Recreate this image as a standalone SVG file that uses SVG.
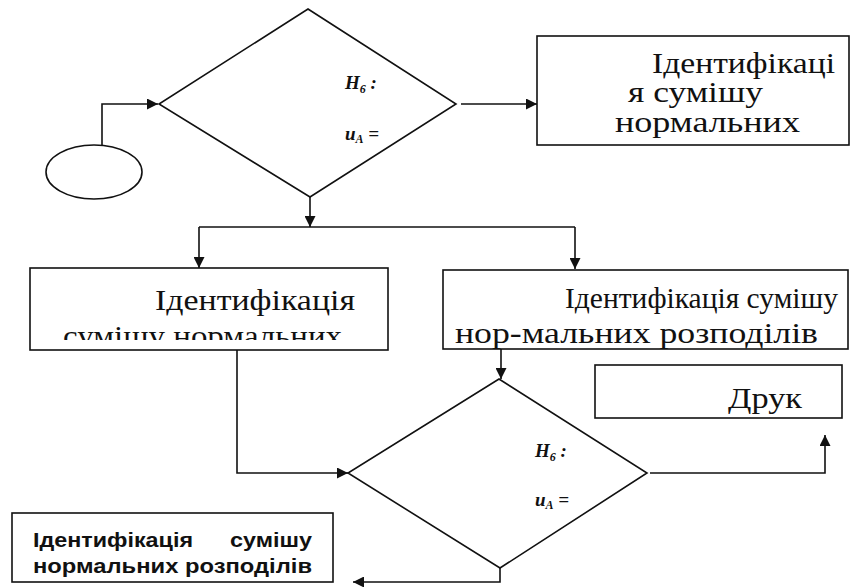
<svg xmlns="http://www.w3.org/2000/svg" width="851" height="587" viewBox="0 0 851 587">
<style>
.s{fill:none;stroke:#111;stroke-width:1.6}
.b{fill:#fff;stroke:#111;stroke-width:1.6}
.t{font-family:'Liberation Serif','DejaVu Serif','Times New Roman',serif;fill:#111;font-size:30px}
.m{font-family:'Liberation Serif','DejaVu Serif','Times New Roman',serif;font-style:italic;font-weight:bold;fill:#111;font-size:19px}
.a{font-family:'Liberation Sans',Arial,sans-serif;font-weight:bold;fill:#111;font-size:21px}
</style>
<defs>
<marker id="ar" viewBox="0 0 10 10" refX="10" refY="5" markerWidth="11" markerHeight="11" markerUnits="userSpaceOnUse" orient="auto">
<path d="M0,0 L10,5 L0,10 Z" fill="#111"/>
</marker>
<clipPath id="cl"><rect x="28" y="268" width="360" height="72"/></clipPath>
</defs>
<rect width="851" height="587" fill="#fff"/>
<g id="connectors">
<path class="s" d="M102,145 V104 H158" marker-end="url(#ar)"/>
<path class="s" d="M461,104 H537" marker-end="url(#ar)"/>
<path class="s" d="M310,197 V227" marker-end="url(#ar)"/>
<path class="s" d="M199,227 H575"/>
<path class="s" d="M199,227 V268" marker-end="url(#ar)"/>
<path class="s" d="M575,227 V269" marker-end="url(#ar)"/>
<path class="s" d="M237,350 V473 H348" marker-end="url(#ar)"/>
<path class="s" d="M501,349 V379" marker-end="url(#ar)"/>
<path class="s" d="M650,473 H825 V435" marker-end="url(#ar)"/>
<path class="s" d="M500,568 V582 H353" marker-end="url(#ar)"/>
</g>
<g id="start">
<ellipse class="b" cx="94" cy="172" rx="48" ry="27"/>
</g>
<g id="decision1">
<path class="b" d="M308,9 L456,104 L310,197 L159,104 Z"/>
<text class="m" x="345" y="89">H<tspan font-size="12" dy="4">6</tspan><tspan dy="-4"> :</tspan></text>
<text class="m" x="345" y="140">u<tspan font-size="12" dy="3">A</tspan><tspan dy="-3"> =</tspan></text>
</g>
<g id="box-top-right">
<rect class="b" x="537" y="36" width="312" height="109"/>
<text class="t" x="652" y="73" textLength="183" lengthAdjust="spacingAndGlyphs">Ідентифікаці</text>
<text class="t" x="628" y="102" textLength="135" lengthAdjust="spacingAndGlyphs">я сумішу</text>
<text class="t" x="615" y="132" textLength="185" lengthAdjust="spacingAndGlyphs">нормальних</text>
</g>
<g id="box-mid-left">
<rect class="b" x="30" y="268" width="358" height="82"/>
<text class="t" x="155" y="310" textLength="200" lengthAdjust="spacingAndGlyphs">Ідентифікація</text>
<text class="t" x="63" y="346" textLength="279" lengthAdjust="spacingAndGlyphs" clip-path="url(#cl)">сумішу нормальних</text>
</g>
<g id="box-mid-right">
<rect class="b" x="443" y="270" width="405" height="79"/>
<text class="t" x="565" y="308" textLength="273" lengthAdjust="spacingAndGlyphs">Ідентифікація сумішу</text>
<text class="t" x="455" y="343" textLength="363" lengthAdjust="spacingAndGlyphs">нор-мальних розподілів</text>
</g>
<g id="box-print">
<rect class="b" x="595" y="365" width="247" height="53"/>
<text class="t" x="728" y="408" textLength="74" lengthAdjust="spacingAndGlyphs">Друк</text>
</g>
<g id="decision2">
<path class="b" d="M499,379 L647,473 L500,568 L348,473 Z"/>
<text class="m" x="535" y="457">H<tspan font-size="12" dy="4">6</tspan><tspan dy="-4"> :</tspan></text>
<text class="m" x="535" y="506">u<tspan font-size="12" dy="3">A</tspan><tspan dy="-3"> =</tspan></text>
</g>
<g id="box-bottom-left">
<rect class="b" x="12" y="513" width="321" height="69"/>
<text class="a" x="33" y="547" textLength="160" lengthAdjust="spacingAndGlyphs">Ідентифікація</text>
<text class="a" x="230" y="547" textLength="82" lengthAdjust="spacingAndGlyphs">сумішу</text>
<text class="a" x="33" y="573" textLength="279" lengthAdjust="spacingAndGlyphs">нормальних розподілів</text>
</g>
</svg>
